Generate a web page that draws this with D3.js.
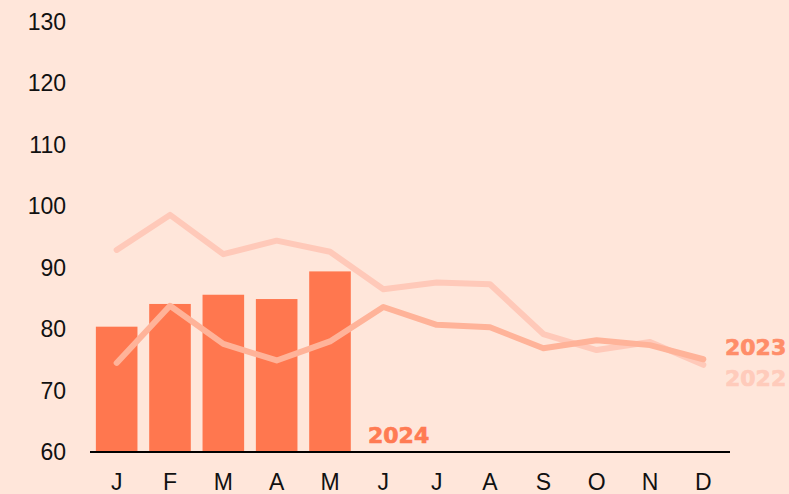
<!DOCTYPE html>
<html>
<head>
<meta charset="utf-8">
<script src="https://cdn.jsdelivr.net/npm/d3@7"></script>
<style>
  html, body { margin: 0; padding: 0; background: #ffe6da; }
  svg { display: block; }
</style>
</head>
<body>
<div id="chartDiv"></div>
<script>
const months = ["J", "F", "M", "A", "M", "J", "J", "A", "S", "O", "N", "D"];
const values2024 = [80.4, 84.1, 85.6, 84.9, 89.4];
const values2023 = [74.5, 83.8, 77.6, 74.9, 78.0, 83.6, 80.7, 80.3, 76.9, 78.2, 77.4, 75.1];
const values2022 = [92.9, 98.6, 92.2, 94.4, 92.6, 86.5, 87.6, 87.3, 79.2, 76.6, 77.9, 74.2];
const yTicks = [60, 70, 80, 90, 100, 110, 120, 130];

const width = 789, height = 494;
const idx = months.map((m, i) => i);

const svg = d3.select("#chartDiv").append("svg")
    .attr("width", width)
    .attr("height", height);

svg.append("rect").attr("width", width).attr("height", height).attr("fill", "#ffe6da");

const x = d3.scaleBand().domain(idx).range([90, 730]).paddingInner(0.22).paddingOuter(0.11);
const y = d3.scaleLinear().domain([60, 130]).range([452, 22]);
const cx = i => x(i) + x.bandwidth() / 2;

// y labels
svg.append("g")
    .selectAll("text")
    .data(yTicks)
    .join("text")
      .attr("x", 66)
      .attr("y", d => y(d))
      .attr("dy", "0.35em")
      .attr("text-anchor", "end")
      .attr("font-family", "Liberation Sans, Arial, sans-serif")
      .attr("font-size", 23)
      .attr("fill", "#111")
      .text(d => d);

// bars 2024
svg.append("g")
    .attr("fill", "#ff774f")
    .selectAll("rect")
    .data(values2024)
    .join("rect")
      .attr("x", (d, i) => x(i))
      .attr("y", d => y(d))
      .attr("width", x.bandwidth())
      .attr("height", d => y(60) - y(d));

const line = d3.line().x((d, i) => cx(i)).y(d => y(d));

svg.append("path")
    .attr("d", line(values2022))
    .attr("fill", "none")
    .attr("stroke", "#ffc9b9")
    .attr("stroke-width", 6)
    .attr("stroke-linejoin", "round")
    .attr("stroke-linecap", "round");

svg.append("path")
    .attr("d", line(values2023))
    .attr("fill", "none")
    .attr("stroke", "#ffb399")
    .attr("stroke-width", 6)
    .attr("stroke-linejoin", "round")
    .attr("stroke-linecap", "round");

// x axis
svg.append("line")
    .attr("x1", 90).attr("x2", 730)
    .attr("y1", y(60)).attr("y2", y(60))
    .attr("stroke", "#000")
    .attr("stroke-width", 2);

svg.append("g")
    .selectAll("text")
    .data(idx)
    .join("text")
      .attr("x", d => cx(d))
      .attr("y", 490)
      .attr("text-anchor", "middle")
      .attr("font-family", "Liberation Sans, Arial, sans-serif")
      .attr("font-size", 23)
      .attr("fill", "#111")
      .text(d => months[d]);

// series labels
const labelFont = "DejaVu Sans, sans-serif";
function seriesLabel(txt, lx, ly, color) {
  svg.append("text")
      .attr("x", lx).attr("y", ly)
      .attr("font-family", labelFont).attr("font-weight", "bold").attr("font-size", 22)
      .attr("fill", color)
      .attr("stroke", color)
      .attr("stroke-width", 0.7)
      .text(txt);
}
seriesLabel("2024", 368, 443, "#ff7b53");
seriesLabel("2023", 725, 355, "#ff8d69");
seriesLabel("2022", 725, 386, "#ffcbbb");
</script>
</body>
</html>
